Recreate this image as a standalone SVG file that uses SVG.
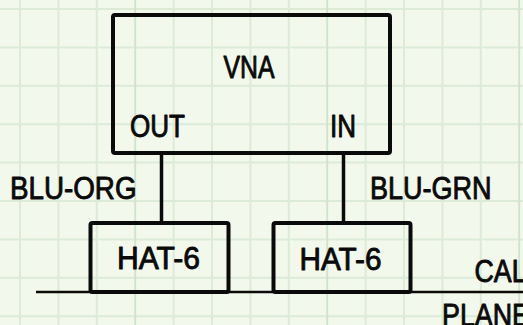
<svg xmlns="http://www.w3.org/2000/svg" width="523" height="325" viewBox="0 0 523 325">
  <defs>
    <style>
      .bg { fill: #f3f8ec; }
      .grid { stroke: #dcebd8; stroke-width: 2; }
      .grid-major { stroke: #d2e3cd; stroke-width: 2; }
      .box { fill: none; stroke: #0a0a0a; stroke-width: 4; stroke-linejoin: round; }
      .wire { stroke: #0a0a0a; stroke-width: 3.5; fill: none; }
      .plane { stroke: #0a0a0a; stroke-width: 2.5; fill: none; }
      .lbl { font-family: "Liberation Sans", "DejaVu Sans", sans-serif; font-size: 31px; fill: #0a0a0a; stroke: #0a0a0a; stroke-width: 0.9; stroke-linejoin: round; }
    </style>
  </defs>

  <!-- graph-paper background -->
  <rect class="bg" x="0" y="0" width="523" height="325"/>
  <g id="grid">
    <g class="grid">
      <line x1="20" y1="0" x2="20" y2="325"/>
      <line x1="58.4" y1="0" x2="58.4" y2="325"/>
      <line x1="96.8" y1="0" x2="96.8" y2="325"/>
      <line x1="173.6" y1="0" x2="173.6" y2="325"/>
      <line x1="212" y1="0" x2="212" y2="325"/>
      <line x1="250.4" y1="0" x2="250.4" y2="325"/>
      <line x1="288.8" y1="0" x2="288.8" y2="325"/>
      <line x1="365.6" y1="0" x2="365.6" y2="325"/>
      <line x1="404" y1="0" x2="404" y2="325"/>
      <line x1="442.4" y1="0" x2="442.4" y2="325"/>
      <line x1="480.8" y1="0" x2="480.8" y2="325"/>
      <line x1="0" y1="9" x2="523" y2="9"/>
      <line x1="0" y1="47.4" x2="523" y2="47.4"/>
      <line x1="0" y1="85.8" x2="523" y2="85.8"/>
      <line x1="0" y1="124.2" x2="523" y2="124.2"/>
      <line x1="0" y1="162.6" x2="523" y2="162.6"/>
      <line x1="0" y1="201" x2="523" y2="201"/>
      <line x1="0" y1="239.4" x2="523" y2="239.4"/>
      <line x1="0" y1="277.8" x2="523" y2="277.8"/>
      <line x1="0" y1="316.2" x2="523" y2="316.2"/>
    </g>
    <g class="grid-major">
      <line x1="135.2" y1="0" x2="135.2" y2="325"/>
      <line x1="327.2" y1="0" x2="327.2" y2="325"/>
      <line x1="519.2" y1="0" x2="519.2" y2="325"/>
    </g>
  </g>

  <!-- cables and the calibration plane -->
  <g id="connectors">
    <line class="plane" x1="36" y1="292" x2="523" y2="292"/>
    <line class="wire" x1="161.5" y1="153" x2="161.5" y2="223"/>
    <line class="wire" x1="343.5" y1="153" x2="343.5" y2="223"/>
    <text class="lbl" x="10" y="199.3" textLength="126.5" lengthAdjust="spacingAndGlyphs">BLU-ORG</text>
    <text class="lbl" x="370" y="199.3" textLength="121.5" lengthAdjust="spacingAndGlyphs">BLU-GRN</text>
  </g>

  <!-- analyzer -->
  <g id="vna">
    <rect class="box" x="113" y="15" width="277" height="138" rx="2"/>
    <text class="lbl" x="223.5" y="77.5" textLength="51" lengthAdjust="spacingAndGlyphs">VNA</text>
    <text class="lbl" x="130" y="136.5" textLength="55" lengthAdjust="spacingAndGlyphs">OUT</text>
    <text class="lbl" x="330" y="136.5" textLength="26" lengthAdjust="spacingAndGlyphs">IN</text>
  </g>

  <!-- adapters -->
  <g id="hat6-out">
    <rect class="box" x="90.5" y="223" width="138" height="69" rx="2"/>
    <text class="lbl" x="117" y="269" textLength="83" lengthAdjust="spacingAndGlyphs">HAT-6</text>
  </g>
  <g id="hat6-in">
    <rect class="box" x="273.5" y="223" width="137" height="69" rx="2"/>
    <text class="lbl" x="299.5" y="269.5" textLength="82" lengthAdjust="spacingAndGlyphs">HAT-6</text>
  </g>

  <g id="cal-plane">
    <text class="lbl" x="474.5" y="281.7" textLength="52" lengthAdjust="spacingAndGlyphs">CAL</text>
    <text class="lbl" x="442" y="325.8" textLength="88" lengthAdjust="spacingAndGlyphs">PLANE</text>
  </g>
</svg>
